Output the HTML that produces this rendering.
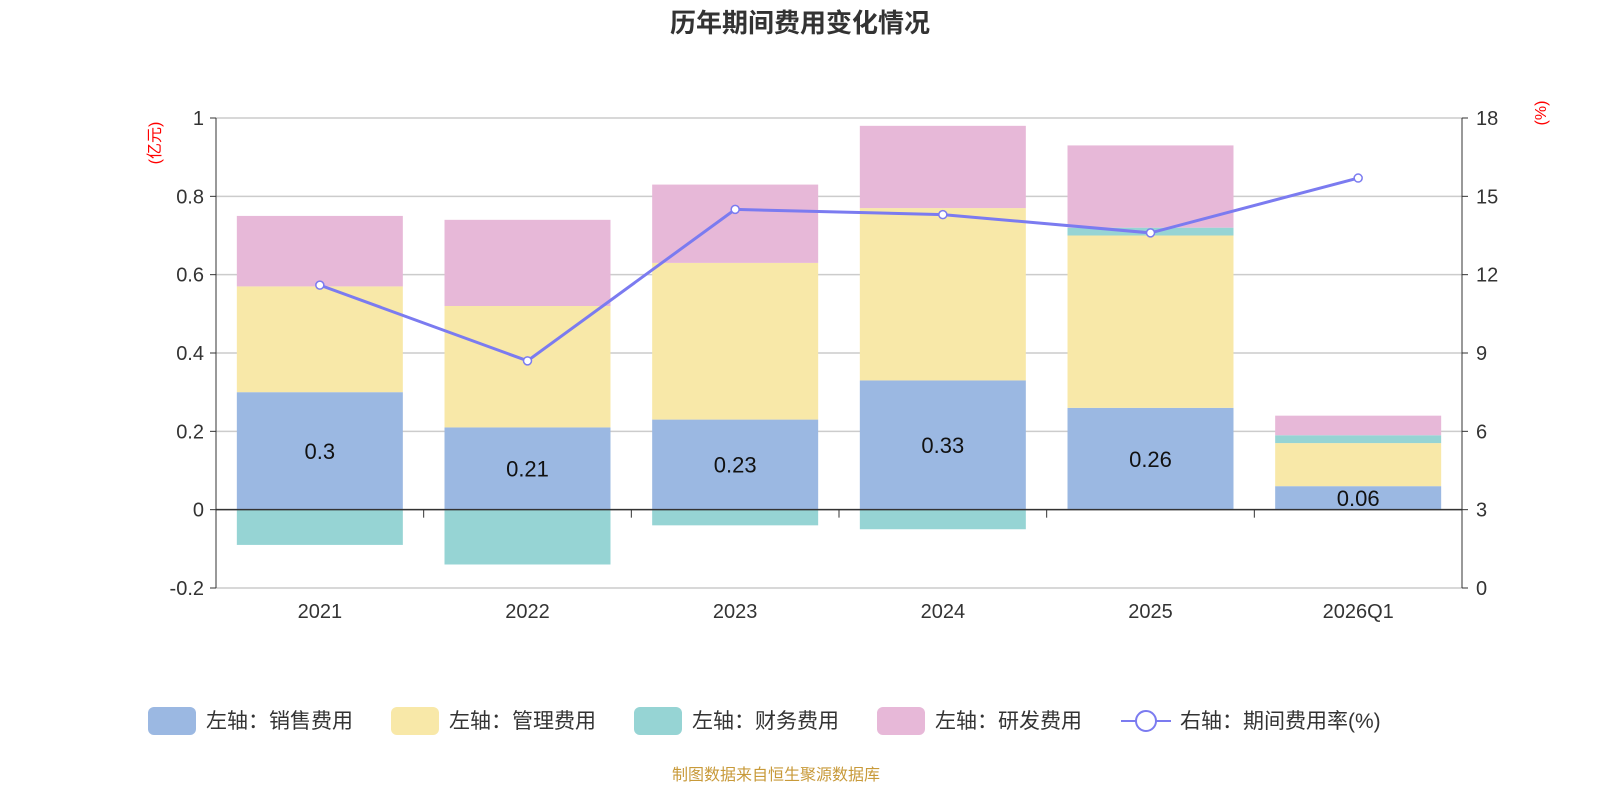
<!DOCTYPE html>
<html><head><meta charset="utf-8"><style>
body{margin:0;background:#fff;width:1600px;height:800px;overflow:hidden;font-family:"Liberation Sans","Noto Sans CJK SC",sans-serif}
</style></head><body>
<svg id="c" width="1600" height="800" xmlns="http://www.w3.org/2000/svg" font-family="Liberation Sans, Noto Sans CJK SC, sans-serif"></svg>
<script>
const categories=["2021","2022","2023","2024","2025","2026Q1"];
const sales=[0.30,0.21,0.23,0.33,0.26,0.06];
const admin=[0.27,0.31,0.40,0.44,0.44,0.11];
const finance=[-0.09,-0.14,-0.04,-0.05,0.02,0.02];
const rnd=[0.18,0.22,0.20,0.21,0.21,0.05];
const rate=[11.6,8.7,14.5,14.3,13.6,15.7];
const leftTicks=[-0.2,0,0.2,0.4,0.6,0.8,1];
const rightTicks=[0,3,6,9,12,15,18];
const svg=document.getElementById('c');
const NS="http://www.w3.org/2000/svg";
function mk(t,a,txt){const e=document.createElementNS(NS,t);for(const k in a)e.setAttribute(k,a[k]);if(txt!==undefined)e.textContent=txt;svg.appendChild(e);return e;}
const X0=216,X1=1462,YT=118,YB=588;
const yL=v=>YB-(v+0.2)/1.2*(YB-YT);
const yR=v=>YB-v/18*(YB-YT);
const bw=(X1-X0)/categories.length;
const xc=i=>X0+bw*(i+0.5);
let e=mk('text',{x:800,y:32,'text-anchor':'middle','font-size':26,'font-weight':'bold',fill:'#333'},'历年期间费用变化情况');

leftTicks.forEach(t=>{const y=yL(t);
 e=mk('line',{x1:X0,x2:X1,y1:y,y2:y,stroke:'#ccc','stroke-width':1.5});
 e=mk('line',{x1:X0-6,x2:X0,y1:y,y2:y,stroke:'#333'});
 e=mk('text',{x:X0-12,y:y+7,'text-anchor':'end','font-size':20,fill:'#333'},String(t));});
rightTicks.forEach(t=>{const y=yR(t);
 e=mk('line',{x1:X1,x2:X1+6,y1:y,y2:y,stroke:'#333'});
 e=mk('text',{x:X1+14,y:y+7,'font-size':20,fill:'#333'},String(t));});
e=mk('line',{x1:X0,x2:X0,y1:YT,y2:YB,stroke:'#333'});
e=mk('line',{x1:X1,x2:X1,y1:YT,y2:YB,stroke:'#333'});
e=mk('text',{x:0,y:0,'font-size':16,fill:'red','text-anchor':'middle',transform:'translate(160,143) rotate(-90)'},'(亿元)');
e=mk('text',{x:0,y:0,'font-size':16,fill:'red','text-anchor':'middle',transform:'translate(1546,113) rotate(-90)'},'(%)');
const bW=166;
categories.forEach((c,i)=>{const x=xc(i)-bW/2;
 let pos=0,neg=0;
 const segs=[[sales[i],'#9bb8e2','bar-sales'],[admin[i],'#f8e8a8','bar-admin'],[finance[i],'#96d4d4','bar-finance'],[rnd[i],'#e7b8d8','bar-rnd']];
 segs.forEach(([v,col,n])=>{let y1,y2;
  if(v>=0){y1=yL(pos+v);y2=yL(pos);pos+=v;}else{y1=yL(neg);y2=yL(neg+v);neg+=v;}
  e=mk('rect',{x:x,y:y1,width:bW,height:Math.max(0,y2-y1),fill:col});});
 e=mk('text',{x:xc(i),y:(yL(0)+yL(sales[i]))/2+8,'text-anchor':'middle','font-size':22,fill:'#111'},String(sales[i]));
 e=mk('text',{x:xc(i),y:618,'text-anchor':'middle','font-size':20,fill:'#333'},c);
 if(i>0){e=mk('line',{x1:X0+bw*i,x2:X0+bw*i,y1:yL(0),y2:yL(0)+8,stroke:'#333'});}
});
e=mk('line',{x1:X0,x2:X1,y1:yL(0),y2:yL(0),stroke:'#333','stroke-width':1.5});
e=mk('polyline',{points:rate.map((r,i)=>xc(i)+','+yR(r)).join(' '),fill:'none',stroke:'#7b7bf0','stroke-width':3});
rate.forEach((r,i)=>{e=mk('circle',{cx:xc(i),cy:yR(r),r:4,fill:'#fff',stroke:'#7b7bf0','stroke-width':1.5});});
const leg=[[148,'#9bb8e2','左轴：销售费用'],[391,'#f8e8a8','左轴：管理费用'],[634,'#96d4d4','左轴：财务费用'],[877,'#e7b8d8','左轴：研发费用']];
leg.forEach(([x,col,t])=>{e=mk('rect',{x:x,y:707,width:48,height:28,rx:6,fill:col});
 e=mk('text',{x:x+58,y:728,'font-size':21,fill:'#333'},t);});
e=mk('line',{x1:1121,x2:1171,y1:721,y2:721,stroke:'#7b7bf0','stroke-width':2});
e=mk('circle',{cx:1146,cy:721,r:10,fill:'#fff',stroke:'#7b7bf0','stroke-width':2});
e=mk('text',{x:1180,y:728,'font-size':21,fill:'#333'},'右轴：期间费用率(%)');
e=mk('text',{x:776,y:780,'text-anchor':'middle','font-size':16,fill:'#c89a3a'},'制图数据来自恒生聚源数据库');
</script>
</body></html>
